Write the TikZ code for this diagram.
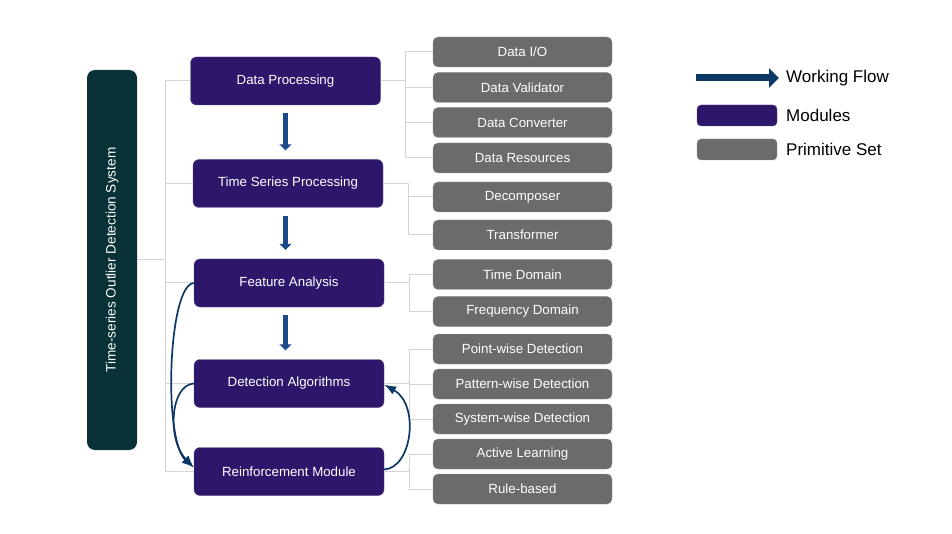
\documentclass[tikz,border=0pt]{standalone}
\usepackage{fontspec}
\setmainfont{Liberation Sans}
\usetikzlibrary{arrows.meta}
\definecolor{mypurple}{RGB}{46,22,107}
\definecolor{myteal}{RGB}{8,50,56}
\definecolor{mygray}{RGB}{107,107,107}
\definecolor{mylightgray}{RGB}{212,212,212}
\definecolor{myblue}{RGB}{28,72,140}
\definecolor{mynavy}{RGB}{12,56,102}
\tikzset{
	>=latex, % default arrow head
	module/.style={rectangle,rounded corners=6,draw=mypurple!75!white,fill=mypurple,text=white,
	               minimum width=190,minimum height=48,inner sep=0,font=\fontsize{13.3}{15}\selectfont},
	prim/.style={rectangle,rounded corners=5,draw=mygray!70!white,fill=mygray,text=white,
	             minimum width=179,minimum height=30,inner sep=0,font=\fontsize{13.3}{15}\selectfont},
	system/.style={rectangle,rounded corners=8,fill=myteal,text=white,rotate=90,
	               minimum width=380,minimum height=50,inner sep=0,font=\fontsize{13.6}{15}\selectfont},
	tree/.style={line width=1,mylightgray},
	flow/.style={-{Triangle[length=6,width=12]},line width=4.5,myblue,shorten <=8,shorten >=9},
	loop arrow/.style={-{Latex[length=12,width=9]},line width=1.7,mynavy},
	legend flow/.style={-{Triangle[length=10,width=19]},line width=7,mynavy},
	legend/.style={anchor=west,inner sep=0,font=\fontsize{17}{20}\selectfont}
}

\begin{document}
\begin{tikzpicture}[x=1pt,y=-1pt]
  \useasboundingbox (0,0) rectangle (952,534);
  
  % SYSTEM
  \node[system] (sys) at (112,260) {Time-series Outlier Detection System};
  \coordinate (trunk) at (165,260);
  
  % MODULES
  \foreach \i/\x/\y/\txt in {1/285.5/81/Data Processing,2/288/183.5/Time Series Processing,
                             3/289/283/Feature Analysis,4/289/383.5/Detection Algorithms,
                             5/289/471.5/Reinforcement Module}{
    \node[module] (M\i) at (\x,\y) {\txt};
    \draw[tree] (M\i.west) -- (M\i.west -| trunk);
  }
  \draw[tree] (sys.south) -- (trunk);
  \draw[tree] (M1.west -| trunk) -- (M5.west -| trunk);
  
  % PRIMITIVE SET
  \foreach \i/\p/\y/\txt in {1/1/52/{Data I/O},2/1/87.5/Data Validator,3/1/122.5/Data Converter,
                             4/1/158/Data Resources,5/2/197/Decomposer,6/2/235/Transformer,
                             7/3/274.5/Time Domain,8/3/311.5/Frequency Domain,
                             9/4/349/Point-wise Detection,10/4/384/Pattern-wise Detection,
                             11/4/419/System-wise Detection,12/5/454/Active Learning,13/5/489/Rule-based}{
    \node[prim] (P\i) at (522.5,\y) {\txt};
    \draw[tree] (M\p.east) -- ++(25,0) |- (P\i.west);
  }
  
  % WORKING FLOW
  \foreach \i [evaluate={\j=int(\i+1);}] in {1,2,3}{
    \draw[flow] (M1.south |- M\i.south) -- (M1.south |- M\j.north);
  }
  \draw[loop arrow] (M3.west) .. controls (168,285) and (163,440) .. ([yshift=4]M5.west);
  \draw[loop arrow] (M4.west) .. controls (170,385) and (167,440) .. ([yshift=4]M5.west);
  \draw[loop arrow] ([yshift=2]M5.east) .. controls (412,468) and (420,405) .. ([yshift=-1]M4.east);
  
  % LEGEND
  \coordinate (LA) at (696,78);
  \coordinate (LB) at (779,78);
  \draw[legend flow] (LA) -- (LB);
  \node[legend] (L1) at (786,78) {Working Flow};
  \node[module,minimum width=80,minimum height=21,rounded corners=4] (LM) at (737,115.5) {};
  \node[legend] (L2) at (786,115.5) {Modules};
  \node[prim,minimum width=80,minimum height=21,rounded corners=4] (LP) at (737,149.5) {};
  \node[legend] (L3) at (786,149.5) {Primitive Set};
  
\end{tikzpicture}
\end{document}
